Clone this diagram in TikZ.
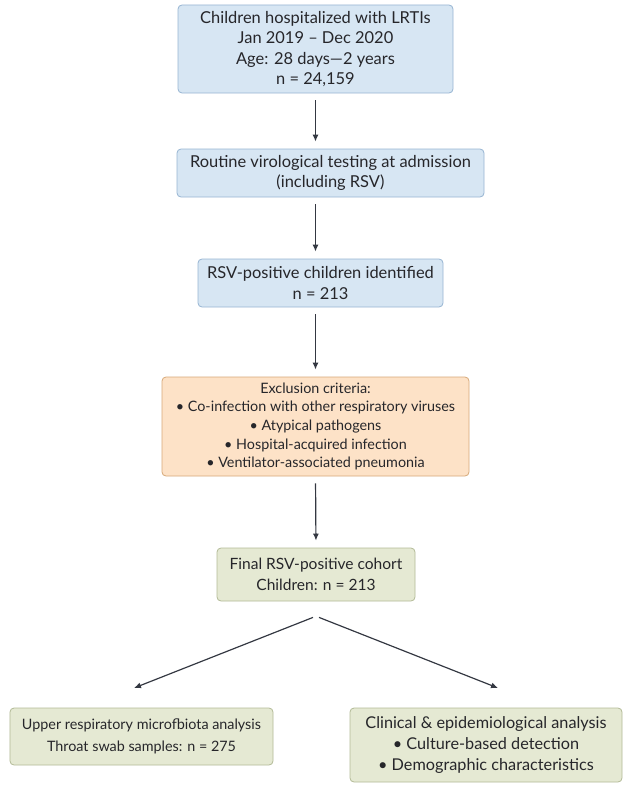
\documentclass[tikz,border=0pt]{standalone}
\usepackage{fontspec}
\setmainfont{Lato}
\usetikzlibrary{arrows.meta,positioning,calc}
\definecolor{flowBlue}{RGB}{215,230,243}
\definecolor{flowBlueDark}{RGB}{150,180,210}
\definecolor{flowOrange}{RGB}{253,226,199}
\definecolor{flowOrangeDark}{RGB}{214,168,120}
\definecolor{flowGreen}{RGB}{229,233,211}
\definecolor{flowGreenDark}{RGB}{178,186,150}
\definecolor{arrowGray}{RGB}{52,56,66}
\definecolor{flowText}{RGB}{38,38,42}

\begin{document}
\begin{tikzpicture}[x=1bp,y=-1bp,
  box/.style={draw, rounded corners=4bp, line width=0.8pt, align=center, inner sep=0pt,
    text=flowText, font=\fontsize{16.5}{20.3}\selectfont},
  blueBox/.style={box, fill=flowBlue, draw=flowBlueDark},
  orangeBox/.style={box, fill=flowOrange, draw=flowOrangeDark},
  greenBox/.style={box, fill=flowGreen, draw=flowGreenDark},
  link/.style={draw=arrowGray, line width=1.2pt, -{Latex[length=7pt,width=6pt]},
    shorten <=7bp, shorten >=7bp}]
\useasboundingbox (0,0) rectangle (630,791);

% screening steps
\node[blueBox, minimum width=275bp, minimum height=88bp] (hosp) at (315.5,49)
  {Children hospitalized with LRTIs\\Jan 2019 -- Dec 2020\\Age: 28 days---2 years\\n = 24,159};
\node[blueBox, minimum width=307bp, minimum height=48bp] (testing) at (330.5,173)
  {Routine virological testing at admission\\(including RSV)};
\node[blueBox, minimum width=245bp, minimum height=48bp] (rsvpos) at (320.5,283)
  {RSV-positive children identified\\n = 213};
\node[orangeBox, minimum width=307bp, minimum height=99bp,
  font=\fontsize{14.4}{18.7}\selectfont] (exclude) at (315.5,426.5)
  {Exclusion criteria:\\• Co-infection with other respiratory viruses\\• Atypical pathogens\\
   • Hospital-acquired infection\\• Ventilator-associated pneumonia};
\node[greenBox, minimum width=198bp, minimum height=53bp,
  font=\fontsize{15.6}{20.5}\selectfont] (cohort) at (316,574.5)
  {Final RSV-positive cohort\\Children: n = 213};

% two analysis branches
\node[greenBox, minimum width=263bp, minimum height=57bp,
  font=\fontsize{14.4}{22}\selectfont] (microbiota) at (141.5,736.5)
  {Upper respiratory microfbiota analysis\\Throat swab samples: n = 275};
\node[greenBox, minimum width=272bp, minimum height=74bp,
  font=\fontsize{16.3}{21}\selectfont] (clinical) at (486,745)
  {Clinical \& epidemiological analysis\\• Culture-based detection\\• Demographic characteristics};

\draw[link] (hosp.south) -- (hosp.south |- testing.north);
\draw[link] (hosp.south |- testing.south) -- (hosp.south |- rsvpos.north);
\draw[link] (exclude.north |- rsvpos.south) -- (exclude.north);
\draw[link] (exclude.south) -- (cohort.north);

\coordinate (splitL) at ($(cohort.south)+(-3,16)$);
\coordinate (splitR) at ($(cohort.south)+(3,16)$);
\coordinate (leftEnd) at (134,688);
\coordinate (rightEnd) at (498,688);
\draw[link, shorten <=0pt, shorten >=0pt] (splitL) -- (leftEnd);
\draw[link, shorten <=0pt, shorten >=0pt] (splitR) -- (rightEnd);
\end{tikzpicture}
\end{document}
